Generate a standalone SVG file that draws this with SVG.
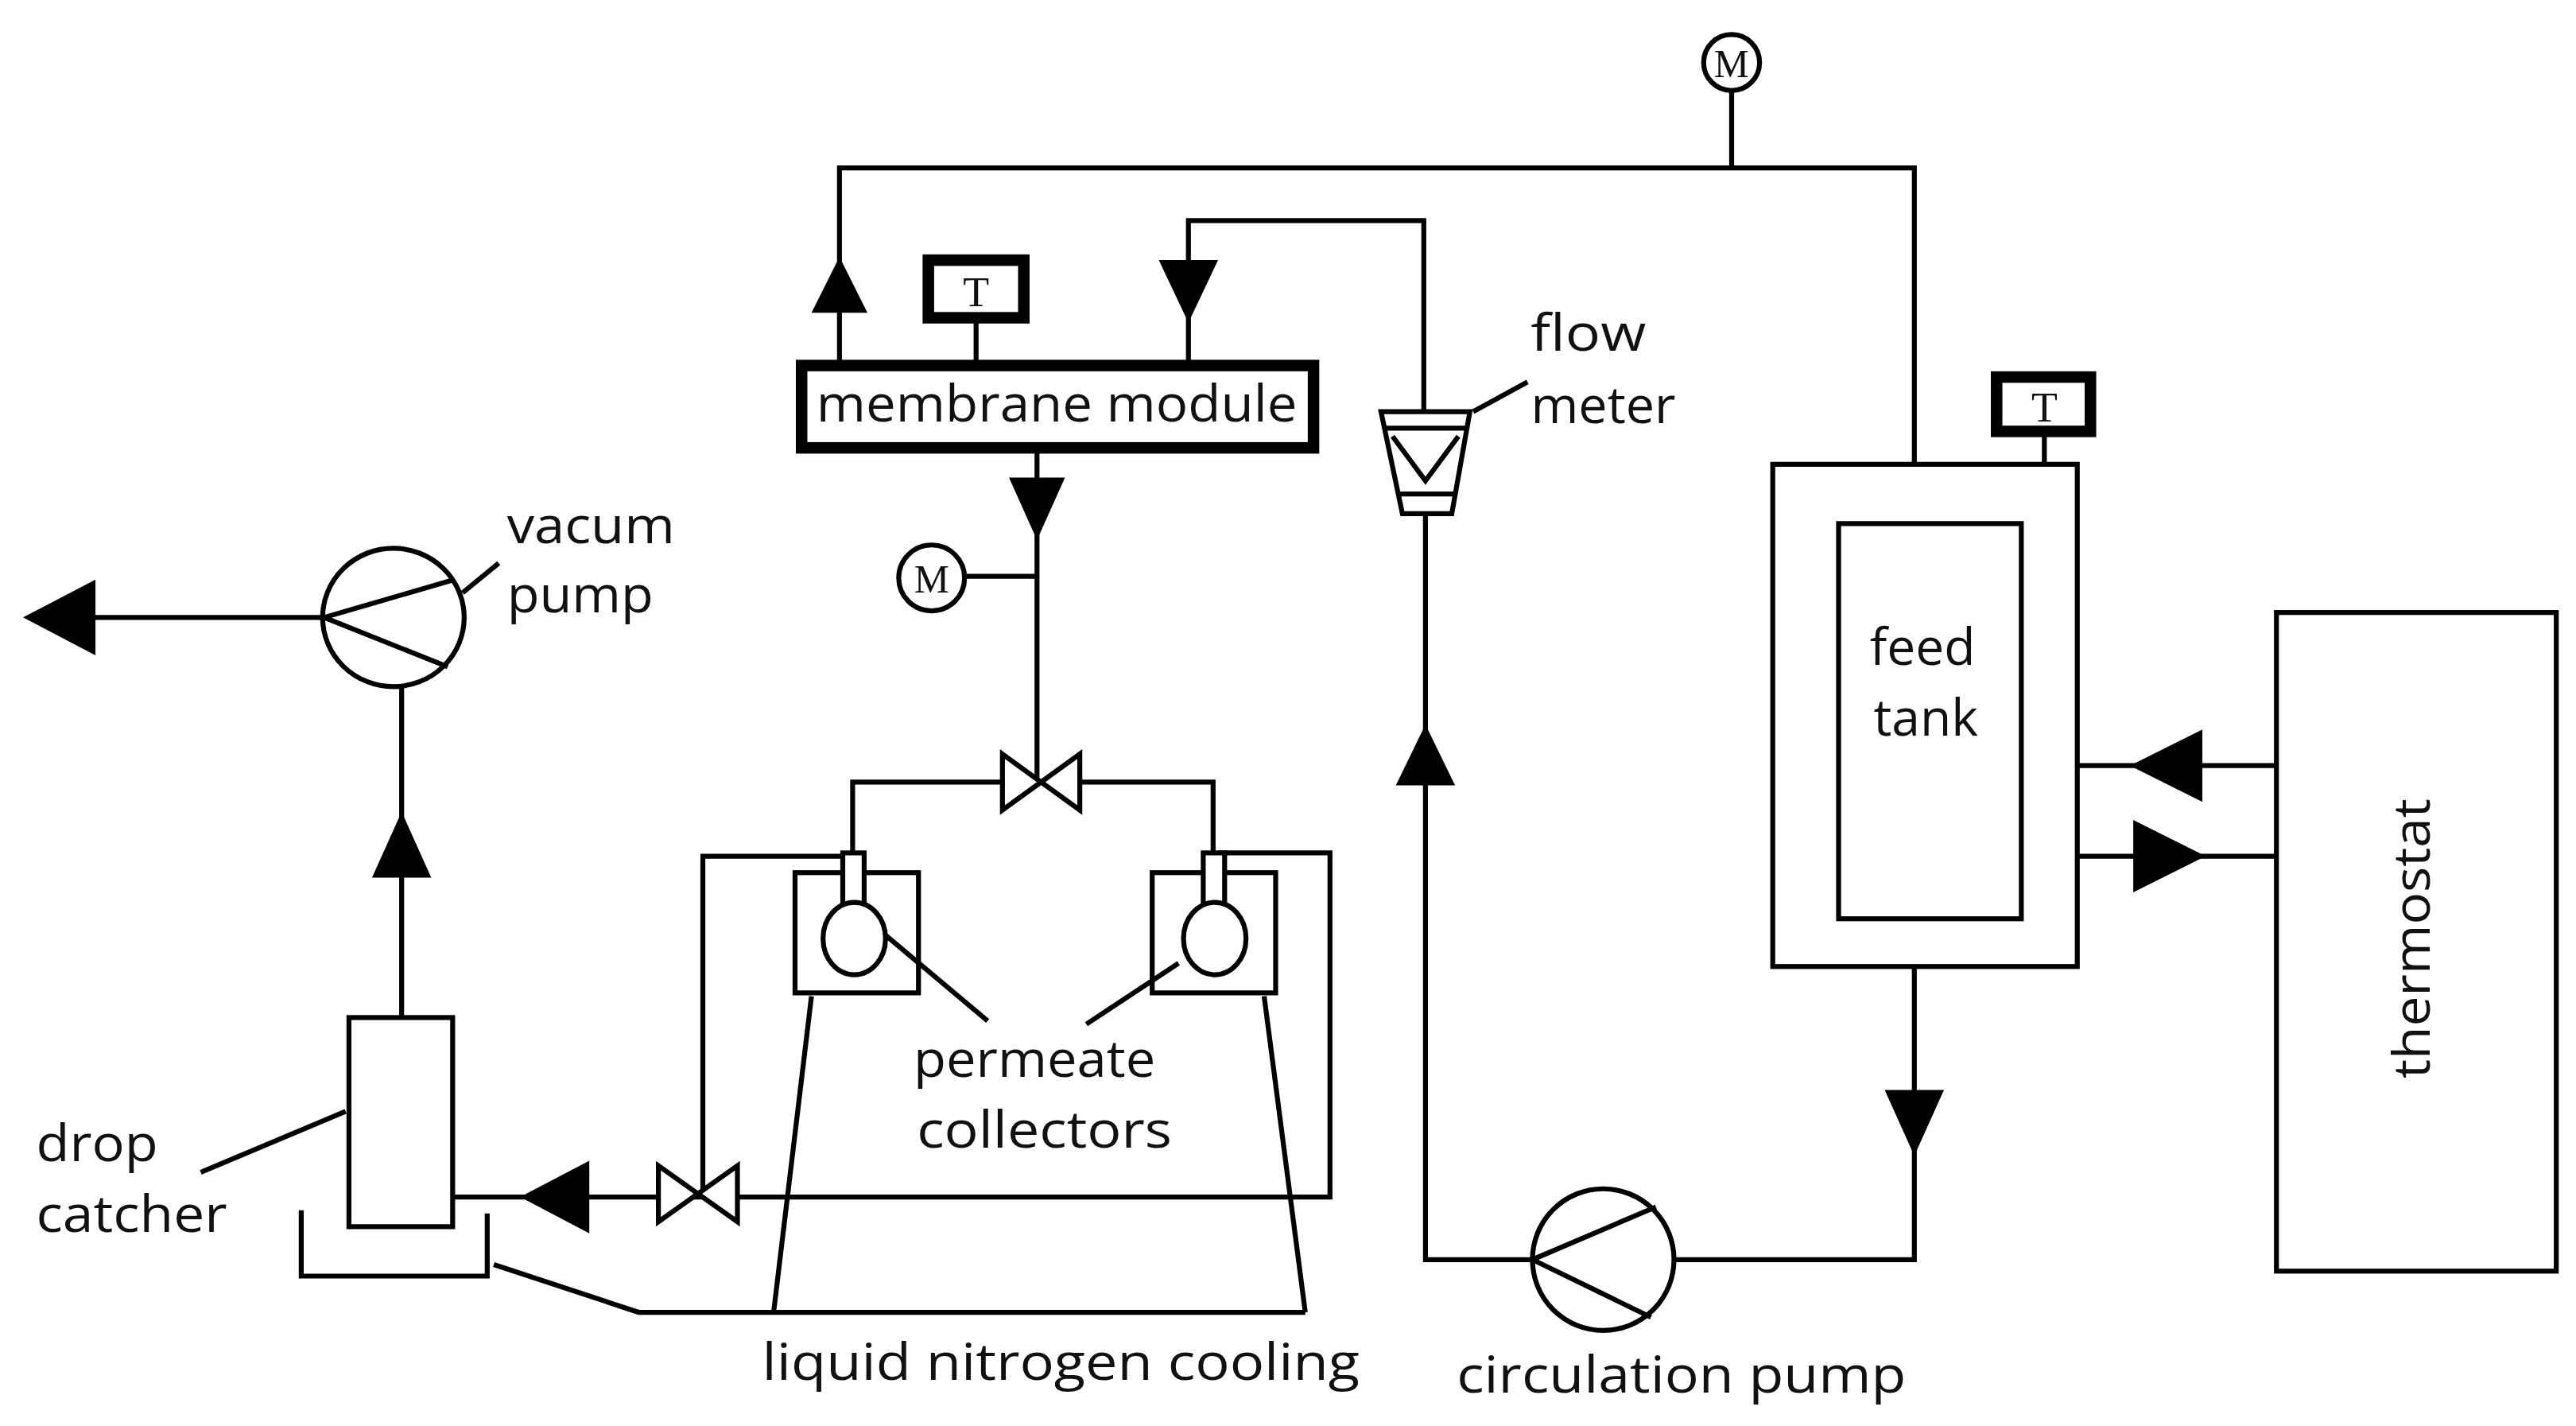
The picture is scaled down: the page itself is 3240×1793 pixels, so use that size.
<svg xmlns="http://www.w3.org/2000/svg" width="3240" height="1793" viewBox="0 0 3240 1793">
<style>
.l{fill:none;stroke:#000;stroke-width:3}
.k{fill:none;stroke:#000;stroke-width:7}
.a{fill:#000}
.v{fill:#fff;stroke:#000;stroke-width:3}
text{font-family:"Open Sans","DejaVu Sans",sans-serif;font-size:31px;fill:#111}
</style>
<rect width="3240" height="1793" fill="#fff"/>
<g transform="scale(2.0703)">
<g id="connectors">
<polyline class="l" points="510,219 510,102 1163,102 1163,282"/>
<line class="l" x1="1052" y1="55" x2="1052" y2="102"/>
<polygon class="a" points="510,156 493,190 527,190"/>
<line class="l" x1="593" y1="195" x2="593" y2="219"/>
<polyline class="l" points="722,219 722,134 865,134 865,250"/>
<polygon class="a" points="704,158 740,158 722,196"/>
<line class="l" x1="630" y1="274" x2="630" y2="473"/>
<polygon class="a" points="613,290 647,290 630,328"/>
<line class="l" x1="586" y1="350" x2="630" y2="350"/>
<polyline class="l" points="609,475 518,475 518,520"/>
<polyline class="l" points="656,475 737,475 737,520"/>
<polyline class="l" points="515,520 427,520 427,726"/>
<polyline class="l" points="740,518 808,518 808,727 275,727"/>
<polygon class="a" points="316,727 358,705 358,749"/>
<line class="l" x1="244" y1="618" x2="244" y2="417"/>
<polygon class="a" points="244,493 226,533 262,533"/>
<line class="l" x1="197" y1="375" x2="55" y2="375"/>
<polygon class="a" points="14,375 58,352 58,398"/>
<polyline class="l" points="866,312 866,765 931,765"/>
<polygon class="a" points="866,440 848,477 884,477"/>
<polyline class="l" points="1017,765 1163,765 1163,587"/>
<polygon class="a" points="1145,662 1181,662 1163,702"/>
<line class="l" x1="1242" y1="264" x2="1242" y2="282"/>
<line class="l" x1="1262" y1="465" x2="1383" y2="465"/>
<polygon class="a" points="1294,465 1338,443 1338,487"/>
<line class="l" x1="1262" y1="520" x2="1383" y2="520"/>
<polygon class="a" points="1340,520 1296,498 1296,542"/>
<polyline class="l" points="183,735 183,775 296,775 296,737"/>
<polyline class="l" points="300,768 388,797 793,797"/>
<line class="l" x1="493" y1="605" x2="470" y2="797"/>
<line class="l" x1="768" y1="605" x2="793" y2="797"/>
</g>
<g id="M-top"><circle class="v" cx="1052" cy="38" r="17"/><text x="1052" y="47" text-anchor="middle" style="font-family:'Liberation Serif',serif;font-size:24px">M</text></g>
<g id="M-perm"><circle class="v" cx="566" cy="351" r="20"/><text x="566" y="360" text-anchor="middle" style="font-family:'Liberation Serif',serif;font-size:24px">M</text></g>
<g id="T-module"><rect class="k" x="564" y="158" width="58" height="35" fill="#fff"/><text x="593" y="186" text-anchor="middle" style="font-family:'Liberation Serif',serif;font-size:26px">T</text></g>
<g id="membrane-module"><rect class="k" x="487" y="222" width="311" height="50" fill="#fff"/><text x="642" y="256" text-anchor="middle" textLength="292" lengthAdjust="spacingAndGlyphs">membrane module</text></g>
<g id="valve-top"><polygon class="v" points="609,458 609,492 656,458 656,492"/></g>
<g id="valve-bottom"><polygon class="v" points="400,708 400,742 448,708 448,742"/></g>
<g id="collector-left"><rect class="l" x="483" y="530" width="75" height="73" fill="#fff"/><rect class="v" x="512" y="518" width="13" height="36"/><ellipse class="v" cx="519" cy="570" rx="19" ry="22"/></g>
<g id="collector-right"><rect class="l" x="700" y="530" width="75" height="73" fill="#fff"/><rect class="v" x="731" y="518" width="13" height="36"/><ellipse class="v" cx="738" cy="570" rx="19" ry="22"/></g>
<g id="labels-perm">
<line class="l" x1="538" y1="568" x2="600" y2="620" stroke-width="2"/>
<line class="l" x1="716" y1="585" x2="660" y2="622" stroke-width="2"/>
<text x="555" y="654" textLength="147" lengthAdjust="spacingAndGlyphs">permeate</text>
<text x="557" y="697" textLength="155" lengthAdjust="spacingAndGlyphs">collectors</text>
<text x="463" y="838" textLength="363" lengthAdjust="spacingAndGlyphs">liquid nitrogen cooling</text>
</g>
<g id="drop-catcher"><rect class="l" x="212" y="618" width="63" height="127" fill="#fff"/><line class="l" x1="122" y1="712" x2="210" y2="675" stroke-width="2"/><text x="22" y="705" textLength="74" lengthAdjust="spacingAndGlyphs">drop</text><text x="22" y="748" textLength="116" lengthAdjust="spacingAndGlyphs">catcher</text></g>
<g id="vacuum-pump"><ellipse class="l" cx="239" cy="375" rx="43" ry="42"/><polyline class="l" points="276,352 197,375 272,405"/><line class="l" x1="281" y1="360" x2="303" y2="342" stroke-width="2"/><text x="308" y="330" textLength="102" lengthAdjust="spacingAndGlyphs">vacum</text><text x="308" y="372" textLength="89" lengthAdjust="spacingAndGlyphs">pump</text></g>
<g id="flow-meter"><polygon class="l" points="839,250 893,250 882,312 852,312" fill="#fff"/><line class="l" x1="841" y1="260" x2="891" y2="260"/><line class="l" x1="850" y1="300" x2="884" y2="300"/><polyline class="l" points="846,265 866,292 886,265"/><line class="l" x1="895" y1="250" x2="928" y2="232" stroke-width="2"/><text x="930" y="213" textLength="70" lengthAdjust="spacingAndGlyphs">flow</text><text x="930" y="257" textLength="88" lengthAdjust="spacingAndGlyphs">meter</text></g>
<g id="circulation-pump"><ellipse class="l" cx="974" cy="765" rx="43" ry="43"/><polyline class="l" points="1006,733 931,765 1003,800"/><text x="885" y="846" textLength="273" lengthAdjust="spacingAndGlyphs">circulation pump</text></g>
<g id="feed-tank"><rect class="l" x="1077" y="282" width="185" height="305" fill="#fff"/><rect class="l" x="1117" y="318" width="111" height="240" stroke-width="4"/><text x="1168" y="404" text-anchor="middle">feed</text><text x="1170" y="447" text-anchor="middle">tank</text></g>
<g id="T-tank"><rect class="k" x="1213" y="229" width="57" height="33" fill="#fff"/><text x="1242" y="256" text-anchor="middle" style="font-family:'Liberation Serif',serif;font-size:26px">T</text></g>
<g id="thermostat"><rect class="l" x="1383" y="372" width="170" height="400" fill="#fff"/><text transform="translate(1476,570) rotate(-90)" text-anchor="middle" textLength="170" lengthAdjust="spacingAndGlyphs">thermostat</text></g>
</g>
</svg>
